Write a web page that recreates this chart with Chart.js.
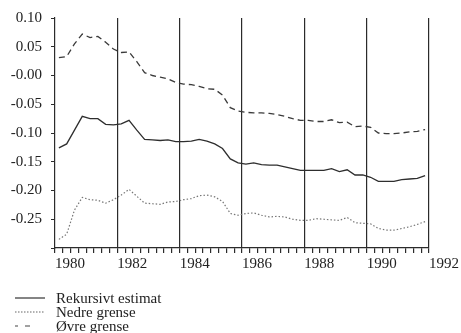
<!DOCTYPE html>
<html>
<head>
<meta charset="utf-8">
<script src="https://cdn.jsdelivr.net/npm/chart.js@4/dist/chart.umd.min.js"></script>
<style>
  html, body { margin: 0; padding: 0; background: #fff; }
  #wrap { position: relative; width: 461px; height: 333px; }
  #chart { position: absolute; left: 0; top: 0; }
  .legend { position: absolute; left: 15px; top: 291px; font-family: 'Liberation Serif', serif; font-size: 15px; color: #222; }
  .legend-row { display: flex; align-items: center; height: 14px; }
  .legend-row svg { width: 30px; height: 6px; margin-right: 11px; }
</style>
</head>
<body>
<div id="wrap">
  <canvas id="chart" width="461" height="333"></canvas>
  <div class="legend">
    <div class="legend-row">
      <svg><line x1="0" y1="3" x2="30" y2="3" stroke="#333" stroke-width="1.2"/></svg>
      Rekursivt estimat
    </div>
    <div class="legend-row">
      <svg><line x1="0" y1="3" x2="30" y2="3" stroke="#666" stroke-width="1.1" stroke-dasharray="1.5 1.5"/></svg>
      Nedre grense
    </div>
    <div class="legend-row">
      <svg><line x1="-2" y1="3" x2="20" y2="3" stroke="#444" stroke-width="1.2" stroke-dasharray="5 7"/></svg>
      Øvre grense
    </div>
  </div>
</div>
<script>
// --- Data: quarterly recursive estimate with lower / upper bounds ---

const firstYear = 1980;
const lastYear = 1991;
const quarters = [];
for (let y = firstYear; y <= lastYear; y++) {
  for (let q = 1; q <= 4; q++) quarters.push(y + (q - 0.5) / 4);
}

const estimate = [
  -0.126, -0.119, -0.095, -0.071, -0.075, -0.075, -0.085, -0.086,
  -0.084, -0.078, -0.095, -0.111, -0.112, -0.113, -0.112, -0.115,
  -0.115, -0.114, -0.111, -0.114, -0.119, -0.127, -0.145, -0.152,
  -0.154, -0.152, -0.155, -0.156, -0.156, -0.159, -0.162, -0.165,
  -0.165, -0.165, -0.165, -0.162, -0.167, -0.164, -0.173, -0.173,
  -0.177, -0.184, -0.184, -0.184, -0.181, -0.180, -0.179, -0.174,
];

const lower = [
  -0.285, -0.276, -0.234, -0.212, -0.216, -0.217, -0.222, -0.216,
  -0.208, -0.198, -0.210, -0.222, -0.223, -0.224, -0.220, -0.219,
  -0.216, -0.214, -0.209, -0.208, -0.211, -0.219, -0.240, -0.243,
  -0.240, -0.239, -0.243, -0.246, -0.245, -0.246, -0.250, -0.252,
  -0.252, -0.249, -0.250, -0.251, -0.252, -0.247, -0.256, -0.257,
  -0.258, -0.266, -0.269, -0.269, -0.266, -0.263, -0.259, -0.254,
];

const upper = [
  0.031, 0.033, 0.055, 0.072, 0.066, 0.068, 0.058, 0.046,
  0.040, 0.041, 0.024, 0.005, 0.000, -0.003, -0.006, -0.012,
  -0.015, -0.016, -0.019, -0.023, -0.024, -0.034, -0.056, -0.062,
  -0.064, -0.065, -0.065, -0.066, -0.068, -0.071, -0.075, -0.078,
  -0.078, -0.080, -0.080, -0.077, -0.082, -0.081, -0.089, -0.088,
  -0.090, -0.100, -0.101, -0.101, -0.100, -0.098, -0.097, -0.094,
];

const yTicks = [-0.25, -0.20, -0.15, -0.10, -0.05, 0, 0.05, 0.10];
const yearLabels = [1980, 1982, 1984, 1986, 1988, 1990, 1992];

const toPoints = arr => arr.map((v, i) => ({ x: quarters[i], y: v }));

const font = { family: "'Liberation Serif', 'Times New Roman', serif", size: 15 };
const ink = '#2b2b2b';

const isEvenYear = v => Math.abs(v - Math.round(v)) < 1e-6 && Math.round(v) % 2 === 0;

new Chart(document.getElementById('chart').getContext('2d'), {
  type: 'line',
  data: {
    datasets: [
      {
        label: 'Rekursivt estimat',
        data: toPoints(estimate),
        borderColor: '#2e2e2e',
        borderWidth: 1.3,
        pointRadius: 0,
      },
      {
        label: 'Nedre grense',
        data: toPoints(lower),
        borderColor: '#777',
        borderWidth: 1.2,
        borderDash: [1.5, 2],
        pointRadius: 0,
      },
      {
        label: 'Øvre grense',
        data: toPoints(upper),
        borderColor: '#3a3a3a',
        borderWidth: 1.3,
        borderDash: [6, 4],
        pointRadius: 0,
      },
    ],
  },
  options: {
    responsive: false,
    animation: false,
    layout: { padding: { top: 16, right: 31, bottom: 0, left: 0 } },
    plugins: {
      legend: { display: false },
      tooltip: { enabled: false },
    },
    scales: {
      x: {
        type: 'linear',
        min: 1980,
        max: 1992,
        afterFit: scale => { scale.height = 85; },
        ticks: {
          stepSize: 0.25,
          autoSkip: false,
          maxRotation: 0,
          align: 'start',
          padding: 2,
          color: '#222',
          font: font,
          callback: v => (isEvenYear(v) && yearLabels.includes(Math.round(v)) ? String(Math.round(v)) : ''),
        },
        grid: {
          drawOnChartArea: true,
          color: ctx => (ctx.tick && isEvenYear(ctx.tick.value) && ctx.tick.value > 1980.5 ? ink : 'rgba(0,0,0,0)'),
          lineWidth: 1.2,
          tickColor: ink,
          tickLength: 5,
        },
        border: { display: true, color: ink, width: 1.2 },
      },
      y: {
        min: -0.30,
        max: 0.10,
        afterFit: scale => { scale.width = 55; },
        afterBuildTicks: scale => {
          scale.ticks = [-0.30].concat(yTicks).map(v => ({ value: v }));
        },
        ticks: {
          padding: 9,
          color: '#222',
          font: font,
          callback: v => {
            if (v < -0.29) return '';
            if (Math.abs(v) < 1e-9) return '-0.00';
            return v.toFixed(2);
          },
        },
        grid: {
          drawOnChartArea: false,
          tickColor: ink,
          tickLength: 4,
        },
        border: { display: true, color: ink, width: 1.2 },
      },
    },
  },
});
</script>
</body>
</html>
